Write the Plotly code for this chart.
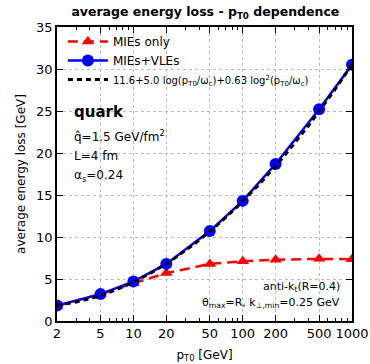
import numpy as np
import plotly.graph_objects as go

pt = [2, 5, 10, 20, 50, 100, 200, 500, 1000]
mies_only = [1.8, 3.2, 4.5, 5.7, 6.8, 7.1, 7.3, 7.4, 7.35]
mies_vles = [1.85, 3.2, 4.7, 6.8, 10.7, 14.3, 18.7, 25.2, 30.5]

# fit curve 11.6 + 5.0 log(pT/wc) + 0.63 log^2(pT/wc), wc = qhat L^2 / 2
c0, c1, c2 = 11.6, 5.0, 0.63
omega_c = 1.5 * 16 / 2 / 0.1973
pt_fit = np.logspace(np.log10(2), np.log10(1000), 200)
lg = np.log(pt_fit / omega_c)
fit = c0 + c1 * lg + c2 * lg ** 2

xticks = [2, 5, 10, 20, 50, 100, 200, 500, 1000]
yticks = [0, 5, 10, 15, 20, 25, 30, 35]
minor_x = [3, 4, 6, 7, 8, 9, 30, 40, 60, 70, 80, 90, 300, 400, 600, 700, 800, 900]

FONT = "DejaVu Sans"
fig = go.Figure()
fig.add_trace(go.Scatter(x=pt, y=mies_only, mode="lines+markers", name="MIEs only",
                         line=dict(color="#ff0000", width=2.5, dash="10px,6px"),
                         marker=dict(symbol="triangle-up", size=11, color="#ff0000")))
fig.add_trace(go.Scatter(x=pt, y=mies_vles, mode="lines+markers", name="MIEs+VLEs",
                         line=dict(color="#0000ff", width=2.5),
                         marker=dict(symbol="circle", size=12, color="#0000ff")))
fig.add_trace(go.Scatter(x=pt_fit, y=fit, mode="lines",
                         name="<span style='font-size:10px'>11.6+5.0 log(p<sub>T0</sub>/ω<sub>c</sub>)+0.63 log<sup>2</sup>(p<sub>T0</sub>/ω<sub>c</sub>)</span>",
                         line=dict(color="black", width=3, dash="5px,4px")))

axis_common = dict(showline=True, linecolor="black", linewidth=1.5, mirror="allticks",
                   ticks="inside", ticklen=6, tickcolor="black", automargin=False,
                   showgrid=True, gridcolor="#bbbbbb", griddash="dot", gridwidth=1,
                   zeroline=False, tickfont=dict(family=FONT, size=13, color="black"))

fig.update_xaxes(type="log", range=[np.log10(2), np.log10(1000)],
                 tickvals=xticks, ticktext=[str(v) for v in xticks],
                 minor=dict(tickvals=minor_x, ticks="inside", ticklen=3, tickcolor="black", showgrid=False),
                 title=dict(text="p<sub>T0</sub> [GeV]", font=dict(family=FONT, size=12, color="black"), standoff=10),
                 **axis_common)
fig.update_yaxes(range=[0, 35], tickvals=yticks,
                 title=dict(text="average energy loss [GeV]", font=dict(family=FONT, size=12, color="black"), standoff=8),
                 **axis_common)

ann = []
def a(x, y, t, size=12, xanchor="left", bold=False):
    ann.append(dict(x=x, y=y, xref="paper", yref="paper", text=("<b>%s</b>" % t) if bold else t,
                    showarrow=False, xanchor=xanchor, yanchor="middle",
                    font=dict(family=FONT, size=size, color="black")))

a(0.05, 0.71, "quark", size=15, bold=True)
a(0.05, 0.628, "q̂=1.5 GeV/fm<sup>2</sup>")
a(0.05, 0.562, "L=4 fm")
a(0.05, 0.494, "α<sub>s</sub>=0.24")
a(0.965, 0.115, "anti-k<sub>t</sub>(R=0.4)", size=11, xanchor="right")
a(0.965, 0.06, "θ<sub>max</sub>=R, k<sub>⊥,min</sub>=0.25 GeV", size=11, xanchor="right")

fig.update_layout(
    width=370, height=364,
    margin=dict(l=57, r=18, t=27, b=43),
    paper_bgcolor="white", plot_bgcolor="white",
    title=dict(text="<b>average energy loss - p<sub>T0</sub> dependence</b>", x=0.555, xanchor="center",
               y=0.968, yanchor="middle", font=dict(family=FONT, size=12.5, color="black")),
    showlegend=True,
    legend=dict(x=0.02, y=1.0, xanchor="left", yanchor="top", bgcolor="rgba(0,0,0,0)",
                font=dict(family=FONT, size=12, color="black"), itemwidth=40, tracegroupgap=0),
    annotations=ann,
)

fig.write_html("out.html")
